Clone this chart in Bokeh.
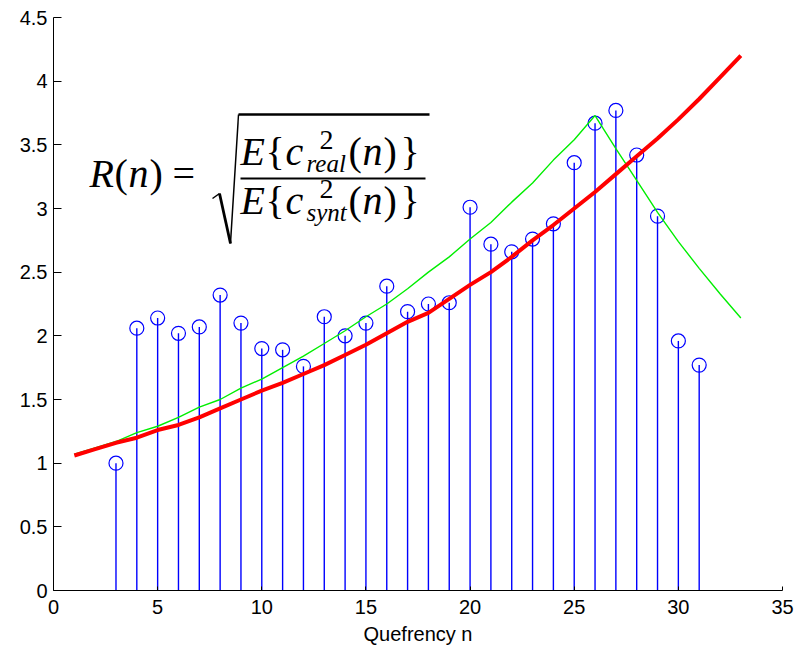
from bokeh.plotting import figure
from bokeh.models import Range1d, FixedTicker, CustomJSTickFormatter, Label
from bokeh.embed import file_html
from bokeh.resources import INLINE

# Quefrency index for the two smooth curves
n_curve = list(range(1, 34))
# Ratio measured per quefrency (stems)
n_stem = list(range(3, 32))
r_measured = [1.00, 2.06, 2.14, 2.02, 2.07, 2.32, 2.10, 1.90, 1.89, 1.76,
              2.15, 2.00, 2.10, 2.39, 2.19, 2.25, 2.26, 3.01, 2.72, 2.66,
              2.76, 2.88, 3.36, 3.67, 3.77, 3.42, 2.94, 1.96, 1.77]
# Fitted ratio (red) and alternative model (green)
r_fit = [1.06, 1.11, 1.16, 1.20, 1.26, 1.30, 1.36, 1.43, 1.50, 1.57,
         1.63, 1.70, 1.77, 1.85, 1.93, 2.02, 2.11, 2.18, 2.29, 2.40,
         2.50, 2.62, 2.75, 2.87, 3.00, 3.13, 3.27, 3.41, 3.55, 3.70,
         3.86, 4.03, 4.20]
r_model = [1.07, 1.12, 1.17, 1.24, 1.29, 1.36, 1.44, 1.50, 1.59, 1.66,
           1.75, 1.84, 1.94, 2.04, 2.15, 2.25, 2.37, 2.50, 2.62, 2.76,
           2.89, 3.05, 3.20, 3.38, 3.54, 3.73, 3.47, 3.22, 2.97, 2.74,
           2.53, 2.33, 2.14]

x_ticks = [0, 5, 10, 15, 20, 25, 30, 35]
y_ticks = [0, 0.5, 1, 1.5, 2, 2.5, 3, 3.5, 4, 4.5]

FL, FT, FW, FH = 53, 17, 729, 573
X0, X1, Y0, Y1 = 0, 35, 0, 4.5

p = figure(frame_width=FW, frame_height=FH,
           x_range=Range1d(X0, X1), y_range=Range1d(Y0, Y1),
           min_border_left=FL, min_border_right=12,
           min_border_top=FT, min_border_bottom=59,
           output_backend="svg", toolbar_location=None)
p.outline_line_color = None
p.xgrid.visible = False
p.ygrid.visible = False
p.background_fill_color = "white"
p.border_fill_color = "white"

fmt = CustomJSTickFormatter(code="return String(tick);")
for ax, ticks in ((p.xaxis[0], x_ticks), (p.yaxis[0], y_ticks)):
    ax.ticker = FixedTicker(ticks=ticks)
    ax.formatter = fmt
    ax.minor_tick_line_color = None
    ax.major_tick_out = 0
    ax.axis_line_color = "black"
    ax.major_tick_line_color = "black"
    ax.major_label_text_font = "Liberation Sans"
    ax.major_label_text_font_size = "20px"
    ax.major_label_text_color = "black"
    ax.axis_label_text_font = "Liberation Sans"
    ax.axis_label_text_font_style = "normal"
    ax.axis_label_text_font_size = "20px"
    ax.axis_label_text_color = "black"
p.yaxis[0].major_tick_in = 8
p.xaxis[0].major_tick_in = 4
p.yaxis[0].major_label_standoff = 6
p.xaxis[0].major_label_standoff = 9
p.xaxis[0].axis_label = "Quefrency n"
p.xaxis[0].axis_label_standoff = 6

blue = "#0000ff"
p.segment(x0=n_stem, y0=[0] * len(n_stem), x1=n_stem, y1=r_measured,
          line_color=blue, line_width=1.4)
p.scatter(n_stem, r_measured, marker="circle", size=14, fill_color=None,
          line_color=blue, line_width=1.2)
p.line(n_curve, r_model, line_color="#00ee00", line_width=1.4)
p.line(n_curve, r_fit, line_color="#ff0000", line_width=4)


def at(px, py):
    """Canvas pixel position -> data position (for the formula layout)."""
    return (X0 + (px - FL) / FW * (X1 - X0),
            Y0 + (FT + FH - py) / FH * (Y1 - Y0))


def put(text, px, py, size, italic=False):
    # py is the wanted baseline; the label box is anchored a bit lower
    x, y = at(px, py - 0.37 * size)
    p.add_layout(Label(x=x, y=y, text=text, text_font="Liberation Serif",
                       text_font_style="italic" if italic else "normal",
                       text_font_size=f"{size}px", text_color="black",
                       text_align="left", text_baseline="alphabetic"))


def stroke(pts, width):
    xs, ys = zip(*(at(a, b) for a, b in pts))
    p.line(list(xs), list(ys), line_color="black", line_width=width)


# R(n) =
put("R", 89, 188, 40, italic=True)
put("(", 114, 188, 40)
put("n", 128, 188, 40, italic=True)
put(")", 149, 188, 40)
put("=", 172, 188, 40)

# square root sign
stroke([(212, 198), (219, 193)], 1.5)
stroke([(219, 193), (230, 243)], 2.8)
stroke([(230, 243), (238, 114)], 1.5)
stroke([(238, 114), (429, 114)], 2.5)

# fraction bar
stroke([(240, 178), (425, 178)], 2)

# numerator  E{c^2_real(n)}
put("E", 240, 166, 40, italic=True)
put("{", 265, 166, 40)
put("c", 285, 166, 40, italic=True)
put("2", 319, 150, 28)
put("real", 306, 172, 25, italic=True)
put("(", 348, 166, 40)
put("n", 362, 166, 40, italic=True)
put(")", 383, 166, 40)
put("}", 400, 166, 40)

# denominator  E{c^2_synt(n)}
put("E", 240, 215, 40, italic=True)
put("{", 265, 215, 40)
put("c", 285, 215, 40, italic=True)
put("2", 319, 199, 28)
put("synt", 306, 221, 25, italic=True)
put("(", 348, 215, 40)
put("n", 362, 215, 40, italic=True)
put(")", 383, 215, 40)
put("}", 400, 215, 40)

open("out.html", "w").write(file_html(p, INLINE))
